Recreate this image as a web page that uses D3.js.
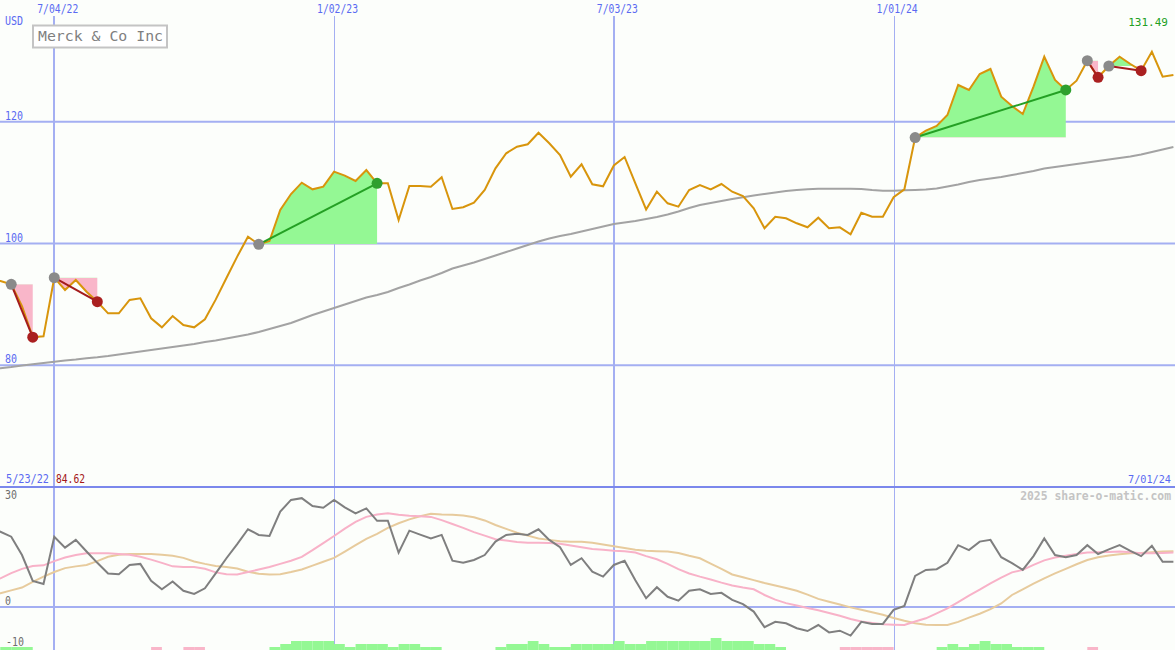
<!DOCTYPE html>
<html><head><meta charset="utf-8">
<script src="https://cdn.jsdelivr.net/npm/d3@7"></script>
<style>html,body{margin:0;padding:0;background:#fcfefb;} svg{display:block}</style>
</head><body><svg id="c" width="1175" height="650"></svg>
<script>
// ---------- DATA ----------
const startDate = new Date(2022, 4, 23);   // 5/23/22, weekly points
const endDate = new Date(2024, 6, 1);      // 7/01/24
const companyName = "Merck & Co Inc";
const currency = "USD";

const price = [94.2, 93.84, 93.30, 89.73, 84.62, 84.75,
  94.38, 92.36, 94.0, 92.08, 90.44, 88.53, 88.53, 90.72, 91.0, 87.71,
  86.23, 88.09, 86.61, 86.23, 87.55, 90.78, 94.33, 97.85, 101.12, 99.87,
  100.41, 105.5, 108.13, 109.99, 108.9, 109.33, 111.8, 111.14, 110.27, 112.07,
  109.89, 109.89, 103.86, 109.45, 109.45, 109.33, 110.88, 105.67, 105.95, 106.7,
  108.79, 112.35, 114.82, 115.9, 116.3, 118.2, 116.46, 114.54, 110.97, 113.01,
  109.72, 109.4, 112.81, 114.21, 109.86, 105.59, 108.51, 106.6, 106.05, 108.79,
  109.61, 108.9, 109.77, 108.51, 107.8, 105.78, 102.5, 104.4, 104.14, 103.32,
  102.66, 104.24, 102.5, 102.66, 101.51, 105.06, 104.4, 104.4, 107.59, 108.9,
  117.41, 118.53, 119.3, 121.11, 126.04, 125.22, 127.84, 128.67, 124.11, 122.59,
  121.27, 125.76, 130.69, 126.86, 125.22, 126.74, 130.03, 127.3, 129.16, 130.69,
  129.49, 128.39, 131.49, 127.4, 127.68];

const movingAvg = [79.30, 79.50, 79.71, 79.96, 80.16, 80.37,
  80.58, 80.78, 80.94, 81.14, 81.31, 81.52, 81.77, 82.01, 82.26, 82.50,
  82.75, 83.00, 83.24, 83.49, 83.82, 84.07, 84.39, 84.72, 85.05, 85.46,
  85.95, 86.45, 86.94, 87.60, 88.25, 88.83, 89.40, 89.98, 90.55, 91.13,
  91.54, 92.03, 92.69, 93.27, 93.92, 94.50, 95.15, 95.89, 96.39, 96.88,
  97.45, 98.03, 98.60, 99.18, 99.75, 100.33, 100.82, 101.23, 101.56, 101.97,
  102.38, 102.79, 103.20, 103.45, 103.70, 104.02, 104.35, 104.76, 105.26, 105.83,
  106.32, 106.65, 106.98, 107.31, 107.59, 107.89, 108.13, 108.38, 108.62, 108.79,
  108.92, 109.0, 109.0, 109.0, 109.0, 108.95, 108.79, 108.67, 108.67, 108.74,
  108.79, 108.87, 109.03, 109.36, 109.69, 110.10, 110.43, 110.68, 110.92, 111.25,
  111.58, 111.91, 112.32, 112.57, 112.81, 113.06, 113.31, 113.55, 113.80, 114.05,
  114.29, 114.62, 115.03, 115.44, 115.85];

const oscillator = [22.0, 21.3, 19.9, 14.7, 7.4, 6.5,
  19.9, 16.8, 19.0, 15.7, 12.5, 9.5, 9.3, 11.9, 12.2, 7.4,
  5.0, 7.2, 4.6, 3.7, 5.3, 9.5, 13.8, 17.8, 22.0, 20.4,
  20.1, 27.0, 30.3, 30.8, 28.6, 28.1, 30.3, 28.2, 26.5, 27.9,
  24.4, 24.4, 15.4, 21.6, 20.5, 19.4, 20.4, 13.1, 12.5, 13.3,
  14.7, 18.5, 20.4, 20.7, 20.4, 22.0, 19.0, 16.9, 11.9, 13.8,
  10.0, 8.6, 11.9, 13.1, 7.6, 2.5, 5.6, 2.9, 1.8, 4.6,
  5.0, 3.7, 4.0, 2.0, 0.8, -1.3, -5.7, -4.2, -4.6, -6.0,
  -6.8, -5.1, -7.2, -6.7, -8.1, -4.2, -4.8, -4.8, -0.8, 0.3,
  8.8, 10.5, 10.7, 12.5, 17.5, 16.1, 18.5, 19.0, 14.1, 12.4,
  10.5, 14.4, 19.4, 14.7, 14.1, 14.7, 17.5, 15.0, 16.3, 17.5,
  15.9, 14.4, 17.3, 12.8, 12.8];

const signalFast = [7.4, 8.1, 9.6, 10.8, 11.6, 11.8,
  13.0, 14.0, 14.7, 15.2, 15.2, 15.2, 15.0, 14.8, 14.2, 13.4,
  12.5, 11.5, 11.3, 11.3, 10.8, 9.8, 9.3, 9.2, 9.9, 10.6,
  11.3, 12.2, 13.1, 14.2, 16.1, 18.1, 20.1, 22.2, 24.1, 25.5,
  26.2, 26.5, 26.1, 25.8, 25.7, 25.5, 24.6, 23.5, 22.4, 21.2,
  20.2, 19.2, 18.8, 18.4, 18.2, 18.2, 18.1, 17.9, 17.4, 16.9,
  16.4, 16.2, 15.9, 15.8, 15.4, 14.4, 13.5, 12.2, 10.7, 9.5,
  8.6, 7.8, 6.9, 6.1, 5.5, 5.0, 3.4, 2.1, 1.1, 0.4,
  -0.3, -0.9, -1.7, -2.5, -3.4, -4.1, -4.5, -4.9, -5.0, -5.1,
  -4.1, -3.2, -1.8, -0.4, 1.4, 3.2, 4.9, 6.7, 8.3, 9.8,
  10.5, 11.9, 13.2, 14.0, 14.5, 15.0, 15.4, 15.5, 15.6, 15.7,
  15.5, 15.2, 15.2, 15.3, 15.4];

const signalSlow = [3.3, 3.9, 4.7, 5.5, 7.1, 8.6,
  9.9, 11.0, 11.5, 11.9, 13.0, 14.2, 14.8, 15.0, 15.0, 15.0,
  14.8, 14.5, 13.9, 12.9, 12.2, 11.6, 11.3, 10.9, 10.0, 9.4,
  9.2, 9.3, 9.9, 10.6, 11.7, 12.8, 13.9, 15.7, 17.5, 19.3,
  20.7, 22.4, 23.7, 24.8, 25.7, 26.4, 26.2, 26.1, 25.9, 25.4,
  24.5, 23.2, 22.1, 21.0, 20.2, 19.4, 19.0, 18.6, 18.5, 18.5,
  18.2, 17.7, 17.2, 16.7, 16.2, 15.9, 15.8, 15.7, 15.3, 14.5,
  13.8, 12.3, 10.8, 9.2, 8.4, 7.6, 6.8, 6.1, 5.4, 4.6,
  3.5, 2.3, 1.5, 0.7, -0.1, -0.8, -1.5, -2.2, -3.1, -3.9,
  -4.6, -5.0, -5.1, -5.1, -4.2, -3.0, -1.9, -0.6, 1.0, 3.4,
  5.0, 6.6, 8.1, 9.5, 10.8, 12.1, 13.3, 14.1, 14.6, 14.9,
  15.2, 15.3, 15.5, 15.7, 15.8];

const histogram = [1, 1, 1, 1, 0, 0,
  0, 0, 0, 0, 0, 0, 0, 0, 0, -1,
  0, 0, -1, -1, 0, 0, 0, 0, 0, 0,
  1, 2, 3, 3, 3, 3, 2, 1, 2, 2,
  2, 1, 2, 2, 1, 1, 0, 0, 0, 0,
  0, 1, 2, 2, 3, 2, 1, 1, 2, 2,
  2, 2, 3, 2, 2, 3, 3, 3, 3, 3,
  3, 4, 3, 3, 3, 2, 2, 1, 0, 0,
  0, 0, 0, -1, -1, -1, -1, -1, 0, 0,
  0, 0, 1, 2, 1, 2, 3, 2, 2, 1,
  1, 1, 0, 0, 0, 0, -1, 0, 0, 0,
  0, 0, 0, 0, 0];

const tradeEntries = ["2022-06-06", "2022-07-04", "2022-11-14", "2024-01-15", "2024-05-06", "2024-05-20"];
const tradeExits   = ["2022-06-20", "2022-08-01", "2023-01-30", "2024-04-22", "2024-05-13", "2024-06-10"];

const gridDates  = ["2022-07-04", "2023-01-02", "2023-07-03", "2024-01-01"];
const gridLabels = ["7/04/22", "1/02/23", "7/03/23", "1/01/24"];
const priceTicks = [120, 100, 80];
const oscTicks = [30, 0, -10];
const startLabel = "5/23/22", endLabel = "7/01/24";
const copyright = "2025 share-o-matic.com";

// ---------- SETUP ----------
const W = 1175, H = 650, PANEL = 487;
const svg = d3.select("#c");
const FONT = "DejaVu Sans Mono, Liberation Mono, monospace";
const BLUE_TXT = "#5a6af2", GRID = "#a4aff2", BORDER = "#7b88ec";

const parse = d3.timeParse("%Y-%m-%d");
const dates = price.map((_, i) => d3.timeDay.offset(startDate, 7 * i));
const x = d3.scaleTime().domain([startDate, endDate]).range([-10.3, 1173.4]);
const yP = d3.scaleLinear().domain([60, 140]).range([PANEL, 0]);
const yO = d3.scaleLinear().domain([0, 30]).range([607, 501]);
const idxOf = s => { const t = +parse(s); return dates.findIndex(d => Math.abs(+d - t) < 86400000 * 2); };

svg.append("rect").attr("width", W).attr("height", H).attr("fill", "#fcfefb");

function txt(g, str, xx, yy, opt) {
  const t = g.append("text").attr("x", xx).attr("y", yy).text(str)
    .attr("font-family", FONT).attr("font-size", opt.size || 11)
    .attr("fill", opt.fill || BLUE_TXT)
    .attr("text-anchor", opt.anchor || "start");
  if (opt.len) t.attr("textLength", opt.len).attr("lengthAdjust", "spacingAndGlyphs");
  if (opt.bold) t.attr("font-weight", "bold");
  return t;
}

// ---------- GRID ----------
const grid = svg.append("g");
gridDates.forEach(s => {
  const d = parse(s);
  const xx = Math.round(x(d)) + 0.5;
  const thick = d.getMonth() === 6;
  grid.append("line").attr("x1", thick ? xx - 0.5 : xx).attr("x2", thick ? xx - 0.5 : xx)
    .attr("y1", 16).attr("y2", H)
    .attr("stroke", GRID).attr("stroke-width", thick ? 2 : 1);
});
priceTicks.forEach(v => {
  grid.append("line").attr("x1", 0).attr("x2", W).attr("y1", yP(v)).attr("y2", yP(v))
    .attr("stroke", GRID).attr("stroke-width", 2);
});
grid.append("line").attr("x1", 0).attr("x2", W).attr("y1", yO(0)).attr("y2", yO(0))
  .attr("stroke", GRID).attr("stroke-width", 2);
grid.append("line").attr("x1", 0).attr("x2", W).attr("y1", PANEL).attr("y2", PANEL)
  .attr("stroke", BORDER).attr("stroke-width", 2);

// ---------- HISTOGRAM ----------
const bars = svg.append("g");
histogram.forEach((v, i) => {
  if (!v) return;
  const x0 = x(dates[i]);
  const x1 = i + 1 < dates.length ? x(dates[i + 1]) : x0 + 10.76;
  const h = Math.abs(v) * 3;
  bars.append("rect").attr("x", x0).attr("width", x1 - x0)
    .attr("y", H - h).attr("height", h)
    .attr("fill", v > 0 ? "#94f894" : "#f9b6c9");
});

// ---------- OSCILLATOR LINES ----------
const lineO = arr => d3.line().x((d, i) => x(dates[i])).y(d => yO(d))(arr);
svg.append("path").attr("d", lineO(signalSlow)).attr("fill", "none").attr("stroke", "#e7cb9d").attr("stroke-width", 2);
svg.append("path").attr("d", lineO(signalFast)).attr("fill", "none").attr("stroke", "#f8b2c8").attr("stroke-width", 2);
svg.append("path").attr("d", lineO(oscillator)).attr("fill", "none").attr("stroke", "#7f7f7f").attr("stroke-width", 2);

// ---------- TRADE FILLS ----------
const defs = svg.append("defs");
const fills = svg.append("g");
tradeEntries.forEach((s, t) => {
  const i0 = idxOf(s), i1 = idxOf(tradeExits[t]);
  const seg = d3.range(i0, i1 + 1);
  const ey = yP(price[i0]);
  const area = d3.area().x(i => x(dates[i])).y0(ey).y1(i => yP(price[i]))(seg);
  defs.append("clipPath").attr("id", "up" + t).append("rect").attr("x", 0).attr("y", 0).attr("width", W).attr("height", ey);
  defs.append("clipPath").attr("id", "dn" + t).append("rect").attr("x", 0).attr("y", ey).attr("width", W).attr("height", PANEL - ey);
  fills.append("path").attr("d", area).attr("fill", "#94f894").attr("clip-path", `url(#up${t})`);
  fills.append("path").attr("d", area).attr("fill", "#f9b6c9").attr("clip-path", `url(#dn${t})`);
});

// ---------- PRICE + MA ----------
const lineP = arr => d3.line().x((d, i) => x(dates[i])).y(d => yP(d))(arr);
svg.append("path").attr("d", lineP(movingAvg)).attr("fill", "none").attr("stroke", "#a3a3a3").attr("stroke-width", 2);
svg.append("path").attr("d", lineP(price)).attr("fill", "none").attr("stroke", "#d8950c").attr("stroke-width", 2).attr("stroke-linejoin", "miter");

// ---------- TRADE CONNECTORS + MARKERS ----------
const marks = svg.append("g");
tradeEntries.forEach((s, t) => {
  const i0 = idxOf(s), i1 = idxOf(tradeExits[t]);
  const win = price[i1] > price[i0];
  marks.append("line").attr("x1", x(dates[i0])).attr("y1", yP(price[i0]))
    .attr("x2", x(dates[i1])).attr("y2", yP(price[i1]))
    .attr("stroke", win ? "#24a024" : "#a41c1c").attr("stroke-width", 2);
});
tradeEntries.forEach((s, t) => {
  const i0 = idxOf(s), i1 = idxOf(tradeExits[t]);
  const win = price[i1] > price[i0];
  marks.append("circle").attr("cx", x(dates[i0])).attr("cy", yP(price[i0])).attr("r", 5.5).attr("fill", "#8a8a8a");
  marks.append("circle").attr("cx", x(dates[i1])).attr("cy", yP(price[i1])).attr("r", 5.5).attr("fill", win ? "#2ea02e" : "#aa2020");
});

// ---------- LABELS ----------
const lab = svg.append("g");
gridDates.forEach((s, i) => {
  txt(lab, gridLabels[i], x(parse(s)) + 3.5, 13, { size: 12, len: 41, anchor: "middle" });
});
txt(lab, currency, 5, 25, { size: 12, len: 18 });
priceTicks.forEach(v => txt(lab, String(v), 5, yP(v) - 2, { size: 12, len: String(v).length * 6 }));
const maxP = d3.max(price), minP = d3.min(price);
txt(lab, maxP.toFixed(2), 1168, 26, { size: 11, anchor: "end", fill: "#22a022" });
txt(lab, startLabel, 6, 483, { size: 12, len: 43 });
txt(lab, minP.toFixed(2), 56, 483, { size: 12, len: 29, fill: "#a41818" });
txt(lab, endLabel, 1171, 483, { size: 10.2, anchor: "end" });
txt(lab, copyright, 1171, 500, { size: 11.4, anchor: "end", fill: "#c4c4c4", bold: true });
oscTicks.forEach(v => {
  const s = String(v);
  const yy = v < 0 ? yO(v) + 3.5 : yO(v) - 2;
  txt(lab, s, v < 0 ? 6 : 5, Math.min(yy, 646), { size: 12, len: s.length * 6, fill: "#6e6e6e" });
});

// title box
svg.append("rect").attr("x", 33).attr("y", 25.5).attr("width", 134).attr("height", 22)
  .attr("fill", "#ffffff").attr("stroke", "#c4c4c4").attr("stroke-width", 2);
txt(svg, companyName, 38, 41, { size: 14.5, len: 125, fill: "#7f7f7f" });
</script></body></html>
